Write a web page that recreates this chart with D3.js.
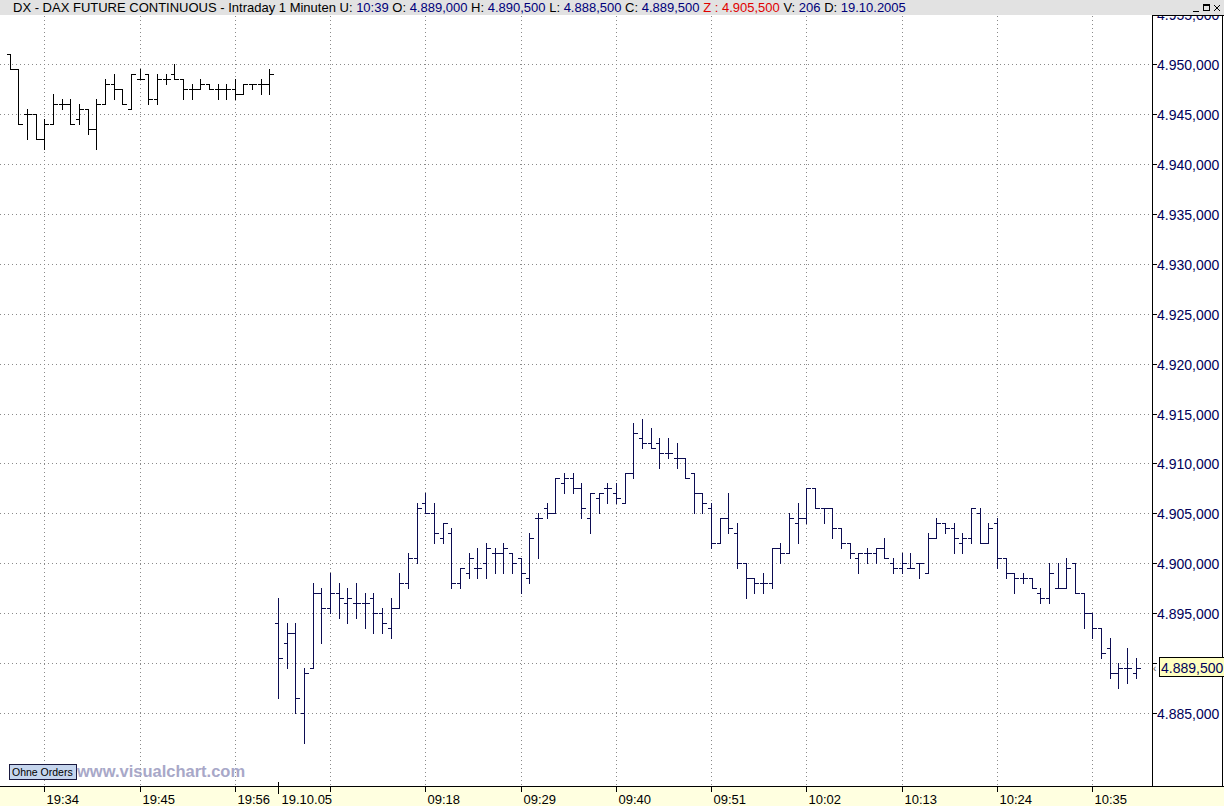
<!DOCTYPE html>
<html><head><meta charset="utf-8">
<script src="https://cdn.jsdelivr.net/npm/d3@7"></script>
<style>html,body{margin:0;padding:0;background:#fff;overflow:hidden}svg{display:block}</style>
</head><body>
<svg id="c" width="1224" height="806"></svg>
<script>
// ---- data ----
const session1Start = "19:30", session1Count = 31;   // 19:30 .. 20:00 (18.10.05)
const session2Start = "09:01", session2Count = 100;  // 09:01 .. 10:40 (19.10.05)
const opens = [4951,4949.5,4945,4945,4942.5,4944,4946,4946,4944.5,4945.5,4943.5,4946,4948,4947.5,4945.5,4948.5,4949,4946.5,4948.5,4949,4948.5,4947.5,4947.5,4948,4947.5,4947.5,4947.5,4947,4948,4948,4948,
 4894,4892,4893,4885,4889.5,4897,4895.5,4897,4896,4896,4896,4896.5,4895,4893.5,4895.5,4898,4900.5,4906,4905,4902.5,4903,4898,4899,4899.5,4900,4901,4901,4901,4900.5,4898.5,
 4904.5,4905.5,4905,4908,4908.5,4907.5,4904.5,4906.5,4907.5,4907,4906,4909,4912.5,4912,4912,4911,4910.5,4910.5,4909,4907,4905.5,4902,4904.5,4903,4900,4898.5,4898,4898,4901.5,4901,
 4904,4904.5,4907.5,4905.5,4905.5,4903.5,4902,4900.5,4901,4901,4901.5,4900,4899.5,4899.5,4900,4899,4902.5,4904,4903.5,4902,4902.5,4905,4902,4904,4900.5,4899,4898.5,4898.5,4897,4896.5,
 4897.5,4897.5,4900,4897,4895,4893.5,4891.5,4889,4889.5,4889];
const highs = [4951,4949.5,4945.5,4945,4944.5,4947,4946.5,4946.5,4946,4945.5,4946.5,4948.5,4949,4947.5,4949,4949.5,4949,4949,4949,4950,4948.5,4948,4948.5,4948,4948,4948,4948.5,4948,4948,4948.5,4949.5,
 4896.5,4894,4894,4889.5,4898,4897.5,4899,4898,4897.5,4898,4897,4897,4895.5,4896.5,4899,4901,4906,4907,4906,4904,4903.5,4899.5,4901,4901.5,4902,4901.5,4902,4901,4900.5,4903,
 4905,4906,4908.5,4909,4909,4908,4907,4907,4908,4908,4909,4914,4914.5,4913.5,4912.5,4912.5,4912,4910.5,4909,4907,4906,4904.5,4907,4904,4900,4898.5,4899,4901.5,4902,4905,
 4906,4907.5,4907.5,4905.5,4905.5,4903.5,4902,4901,4901.5,4901.5,4902.5,4900.5,4901,4901,4900,4903,4904.5,4904,4904,4903,4905.5,4905.5,4904,4904.5,4900.5,4899,4899,4898.5,4897.5,4900,
 4900,4900.5,4900,4897,4895,4893.5,4892.5,4890,4891.5,4890.5];
const lows = [4949.5,4944,4942.5,4942.5,4941.5,4944,4945.5,4944,4944,4943,4941.5,4946,4946.5,4946,4945.5,4948.5,4946,4946,4948,4948.5,4946.5,4946.5,4947.5,4947.5,4946.5,4946.5,4946.5,4947,4947.5,4947,4947,
 4886.5,4889.5,4885,4882,4889.5,4892,4895,4894.5,4894,4894.5,4893.5,4893,4893,4892.5,4895.5,4897.5,4900,4905,4902,4902,4897.5,4897.5,4898.5,4898.5,4898.5,4899,4899,4899,4897,4898,
 4900.5,4904.5,4905,4907,4907,4904.5,4903,4905,4906,4906,4906,4908.5,4911.5,4911.5,4909.5,4910.5,4909.5,4908.5,4905,4905,4901.5,4902,4903,4899.5,4896.5,4897,4897,4897.5,4900,4901,
 4902,4904,4905.5,4904,4902.5,4901.5,4900.5,4899,4900,4900,4900.5,4899,4899,4899.5,4898.5,4899,4902.5,4903,4901,4901,4902,4902,4902,4899.5,4898.5,4897,4898,4897.5,4896,4896,
 4897.5,4897.5,4897,4893.5,4892.5,4890.5,4888.5,4887.5,4888,4888.5];
const closes = [4949.5,4944,4945,4942.5,4944,4946,4946,4944,4945.5,4943.5,4946,4948,4947.5,4946,4949,4948.5,4946.5,4948.5,4948.5,4948.5,4947.5,4947.5,4948,4947.5,4947.5,4947.5,4947,4948,4948,4948,4949,
 4890.5,4893,4886.5,4889,4897,4895.5,4897,4896.5,4896.5,4896,4896,4895,4894,4895.5,4898,4900.5,4905.5,4905,4903,4904,4898,4899.5,4900.5,4899.5,4901.5,4901,4901.5,4900,4899,4902.5,
 4904.5,4905,4908.5,4908.5,4907.5,4905.5,4907,4907,4907.5,4906.5,4909,4913,4912,4911.5,4911,4911,4910.5,4908.5,4907,4906,4902,4904.5,4903.5,4900,4898.5,4898,4898,4901.5,4901,4904.5,
 4904.5,4907.5,4905.5,4905.5,4903.5,4902,4901,4901,4901,4901.5,4900.5,4899.5,4900,4899.5,4900,4902.5,4904,4903.5,4902.5,4902.5,4905.5,4902,4903.5,4900.5,4899,4898.5,4898.5,4897.5,4896.5,4899,
 4897.5,4899.5,4897,4895,4893.5,4891,4889,4889.5,4889.5,4889.5];
const yTicks = [4885,4890,4895,4900,4905,4910,4915,4920,4925,4930,4935,4940,4945,4950,4955];
const xTickLabels = ["19:34","19:45","19:56","09:07","09:18","09:29","09:40","09:51","10:02","10:13","10:24","10:35"];
const hiddenTickLabels = ["09:07"];
const dayLabel = "19.10.05", dayStartTime = "09:01";
const lastPrice = 4889.5;

// ---- helpers ----
function minuteSeq(start, n){ const [h,m]=start.split(":").map(Number); const out=[];
  for(let k=0;k<n;k++){const t=h*60+m+k; out.push(String(Math.floor(t/60)).padStart(2,"0")+":"+String(t%60).padStart(2,"0"));} return out; }
const times = minuteSeq(session1Start, session1Count).concat(minuteSeq(session2Start, session2Count));
const bars = times.map((t,i)=>({t, o:opens[i], h:highs[i], l:lows[i], c:closes[i], s: i<session1Count?1:2}));

const loc = d3.formatLocale({decimal:",", thousands:".", grouping:[3], currency:["","€"]});
const fmt = loc.format(",.3f");

const svg = d3.select("#c");
const W=1224, H=806, plotR=1152, axisY=786, plotTop=16;

const x = d3.scalePoint().domain(times).range([9.66, 1135.5]);
const y = d3.scaleLinear().domain([4900, 4950]).range([563.3, 64]);

// backgrounds
svg.append("rect").attr("x",0).attr("y",0).attr("width",W).attr("height",H).attr("fill","#fff");
svg.append("rect").attr("x",0).attr("y",axisY).attr("width",W).attr("height",H-axisY).attr("fill","#ffffe0");

// grid
const grid = svg.append("g").attr("stroke","#8a8a8a").attr("stroke-dasharray","1,3").attr("shape-rendering","crispEdges");
yTicks.forEach(v=>{ grid.append("line").attr("x1",0).attr("x2",plotR).attr("y1",Math.round(y(v))+0.5).attr("y2",Math.round(y(v))+0.5); });
xTickLabels.forEach(t=>{ const xx=Math.round(x(t))+0.5; grid.append("line").attr("x1",xx).attr("x2",xx).attr("y1",plotTop).attr("y2",axisY); });

// bars
const gb = svg.append("g").attr("shape-rendering","crispEdges");
bars.forEach(b=>{
  const xx=Math.round(x(b.t))+0.5, col = b.s===1?"#000000":"#0c0c52";
  const g=gb.append("g").attr("stroke",col).attr("stroke-width",1);
  g.append("line").attr("x1",xx).attr("x2",xx).attr("y1",Math.round(y(b.h))).attr("y2",Math.round(y(b.l))+1);
  g.append("line").attr("x1",xx-4).attr("x2",xx).attr("y1",Math.round(y(b.o))+0.5).attr("y2",Math.round(y(b.o))+0.5);
  g.append("line").attr("x1",xx).attr("x2",xx+4).attr("y1",Math.round(y(b.c))+0.5).attr("y2",Math.round(y(b.c))+0.5);
});

// right axis panel
svg.append("rect").attr("x",plotR).attr("y",plotTop).attr("width",W-plotR).attr("height",axisY-plotTop).attr("fill","#fff");
const ya = svg.append("g");
const ly=Math.round(y(lastPrice));
yTicks.forEach(v=>{
  const yy=Math.round(y(v))+0.5;
  ya.append("line").attr("x1",plotR).attr("x2",plotR+5).attr("y1",yy).attr("y2",yy).attr("stroke","#000").attr("shape-rendering","crispEdges");
  if(Math.abs(yy-ly)>12) ya.append("text").attr("x",plotR+5).attr("y",yy).attr("dy","0.36em").attr("font-family","Liberation Sans, Arial, sans-serif")
    .attr("font-size",14).attr("fill","#00005a").text(fmt(v));
});
svg.append("line").attr("x1",plotR+0.5).attr("x2",plotR+0.5).attr("y1",0).attr("y2",axisY).attr("stroke","#000").attr("shape-rendering","crispEdges");
svg.append("line").attr("x1",W-1.5).attr("x2",W-1.5).attr("y1",0).attr("y2",axisY).attr("stroke","#000").attr("shape-rendering","crispEdges");

// last price box
svg.append("text").attr("x",plotR+1).attr("y",ly+4).attr("font-family","Liberation Sans, Arial, sans-serif").attr("font-size",10).attr("fill","#555").text("‹");
svg.append("rect").attr("x",1159.5).attr("y",ly-10.5).attr("width",70).attr("height",19).attr("fill","#ffffc0").attr("stroke","#000");
svg.append("text").attr("x",1161).attr("y",ly).attr("dy","0.36em").attr("font-family","Liberation Sans, Arial, sans-serif")
  .attr("font-size",14).attr("fill","#00005a").text(fmt(lastPrice));

// bottom axis
svg.append("line").attr("x1",0).attr("x2",W).attr("y1",axisY+0.5).attr("y2",axisY+0.5).attr("stroke","#000").attr("stroke-width",1.5).attr("shape-rendering","crispEdges");
const xa = svg.append("g").attr("font-family","Liberation Sans, Arial, sans-serif").attr("font-size",13).attr("fill","#000");
xTickLabels.forEach(t=>{
  const xx=Math.round(x(t))+0.5;
  xa.append("line").attr("x1",xx).attr("x2",xx).attr("y1",axisY).attr("y2",axisY+6).attr("stroke","#000").attr("shape-rendering","crispEdges");
  if(!hiddenTickLabels.includes(t)) xa.append("text").attr("x",xx+2).attr("y",804).text(t);
});
const dx0 = Math.round(x(dayStartTime))+0.5;
xa.append("line").attr("x1",dx0).attr("x2",dx0).attr("y1",axisY-4).attr("y2",axisY+8).attr("stroke","#000").attr("shape-rendering","crispEdges");
xa.append("text").attr("x",dx0+3).attr("y",804).text(dayLabel);

// Ohne Orders button + watermark
svg.append("rect").attr("x",9.5).attr("y",764.5).attr("width",67).attr("height",15).attr("fill","#c6d6ee").attr("stroke","#1a1a40");
svg.append("text").attr("x",12).attr("y",776).attr("font-family","Liberation Sans, Arial, sans-serif").attr("font-size",10.5).attr("fill","#000").text("Ohne Orders");
svg.append("text").attr("x",77).attr("y",777).attr("font-family","Liberation Sans, Arial, sans-serif").attr("font-weight","bold").attr("font-size",16.5).attr("fill","#a8a8c8").text("www.visualchart.com");

// title bar
svg.append("rect").attr("x",0).attr("y",0).attr("width",W).attr("height",plotTop-1).attr("fill","#e2e2e2");
svg.append("line").attr("x1",plotR).attr("x2",W).attr("y1",plotTop-0.5).attr("y2",plotTop-0.5).attr("stroke","#000").attr("shape-rendering","crispEdges");
const title = svg.append("text").attr("x",13).attr("y",12).attr("font-family","Liberation Sans, Arial, sans-serif").attr("font-size",13);
const parts = [["DX - DAX FUTURE CONTINUOUS - Intraday 1 Minuten U: ","#000"],["10:39","#00007a"],[" O: ","#000"],["4.889,000","#00007a"],
  [" H: ","#000"],["4.890,500","#00007a"],[" L: ","#000"],["4.888,500","#00007a"],[" C: ","#000"],["4.889,500","#00007a"],
  [" Z : 4.905,500","#e00000"],[" V: ","#000"],["206","#00007a"],[" D: ","#000"],["19.10.2005","#00007a"]];
parts.forEach(p=>title.append("tspan").attr("fill",p[1]).attr("xml:space","preserve").text(p[0]));
// window buttons
const wb = svg.append("g").attr("stroke","#000").attr("fill","none").attr("shape-rendering","crispEdges");
wb.append("line").attr("x1",1193).attr("x2",1199).attr("y1",11.5).attr("y2",11.5);
wb.append("rect").attr("x",1203.5).attr("y",4.5).attr("width",6).attr("height",6);
wb.append("line").attr("x1",1203.5).attr("x2",1209.5).attr("y1",5.5).attr("y2",5.5);
wb.append("line").attr("x1",1214).attr("x2",1220).attr("y1",5).attr("y2",11).attr("shape-rendering","auto");
wb.append("line").attr("x1",1220).attr("x2",1214).attr("y1",5).attr("y2",11).attr("shape-rendering","auto");
</script>
</body></html>
